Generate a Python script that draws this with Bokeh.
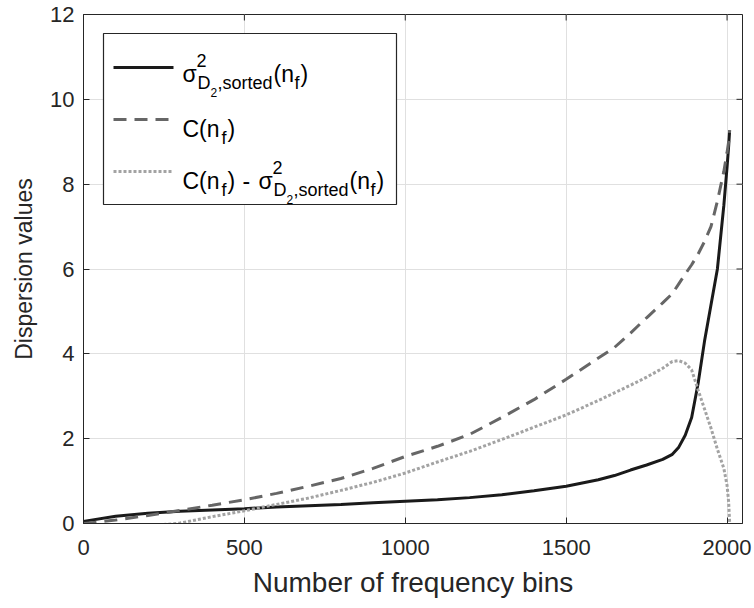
from bokeh.plotting import figure
from bokeh.models import Range1d, BoxAnnotation, Label, FixedTicker
from bokeh.embed import file_html
from bokeh.resources import INLINE

# ---------------- data ----------------
n_bins = [0, 100, 200, 300, 400, 500, 600, 700, 800, 900, 1000, 1100, 1200, 1300,
          1400, 1500, 1600, 1650, 1700, 1750, 1800, 1830, 1850, 1870, 1890, 1910,
          1930, 1950, 1970, 1990, 2000, 2005, 2008]
sigma_sorted = [0.05, 0.17, 0.24, 0.29, 0.32, 0.35, 0.39, 0.42, 0.45, 0.49, 0.525, 0.56,
                0.61, 0.68, 0.77, 0.88, 1.03, 1.13, 1.26, 1.38, 1.51, 1.63, 1.80, 2.08,
                2.50, 3.30, 4.30, 5.15, 6.00, 7.50, 8.40, 8.90, 9.27]
c_values = [0.0, 0.08, 0.19, 0.31, 0.43, 0.56, 0.71, 0.88, 1.06, 1.30, 1.58, 1.82,
            2.10, 2.50, 2.92, 3.40, 3.90, 4.15, 4.49, 4.85, 5.20, 5.42, 5.65, 5.88,
            6.10, 6.35, 6.65, 7.00, 7.60, 8.30, 8.75, 9.00, 9.27]
diff_values = [-0.05, -0.10, -0.06, 0.01, 0.16, 0.30, 0.45, 0.60, 0.78, 0.97, 1.19, 1.45,
               1.70, 1.98, 2.27, 2.56, 2.90, 3.08, 3.26, 3.45, 3.66, 3.82, 3.84, 3.78,
               3.62, 3.15, 2.70, 2.25, 1.75, 1.30, 0.90, 0.50, 0.03]

x_ticks = [0, 500, 1000, 1500, 2000]
y_ticks = [0, 2, 4, 6, 8, 10, 12]
X_MAX = 2048
Y_MAX = 12

AX = "#262626"
FONT = "Liberation Sans"

# frame edges in canvas pixels
FL, FR, FT, FB = 83, 742, 14, 523
W, H = 754, 608

p = figure(width=W, height=H,
           x_range=Range1d(0, X_MAX), y_range=Range1d(0, Y_MAX),
           output_backend="svg", toolbar_location=None,
           min_border_left=FL, min_border_right=W - FR,
           min_border_top=FT, min_border_bottom=H - FB)

p.background_fill_color = "white"
p.border_fill_color = "white"
p.outline_line_color = AX
p.outline_line_width = 1

p.xaxis.ticker = FixedTicker(ticks=x_ticks)
p.yaxis.ticker = FixedTicker(ticks=y_ticks)
for ax in list(p.xaxis) + list(p.yaxis):
    ax.major_tick_in = 6
    ax.major_tick_out = 0
    ax.minor_tick_in = 0
    ax.minor_tick_out = 0
    ax.axis_line_color = AX
    ax.major_tick_line_color = AX
    ax.major_label_text_font = FONT
    ax.major_label_text_font_size = "22px"
    ax.major_label_text_color = AX
    ax.axis_label_text_font = FONT
    ax.axis_label_text_font_style = "normal"
    ax.axis_label_text_color = AX

p.xaxis.axis_label = "Number of frequency bins"
p.xaxis.axis_label_text_font_size = "28px"
p.xaxis.major_label_standoff = 16
p.xaxis.axis_label_standoff = 9
p.yaxis.axis_label = "Dispersion values"
p.yaxis.axis_label_text_font_size = "23px"
p.yaxis.major_label_standoff = 9
p.yaxis.axis_label_standoff = 10

p.grid.grid_line_color = "#e0e0e0"
p.grid.grid_line_width = 1

# inward ticks on the right and top edges (box style)
tick_dx = 6 * X_MAX / (FR - FL)
tick_dy = 6 * Y_MAX / (FB - FT)
p.segment(x0=[X_MAX - tick_dx] * len(y_ticks), y0=y_ticks,
          x1=[X_MAX] * len(y_ticks), y1=y_ticks, line_color=AX, line_width=1)
p.segment(x0=x_ticks, y0=[Y_MAX - tick_dy] * len(x_ticks),
          x1=x_ticks, y1=[Y_MAX] * len(x_ticks), line_color=AX, line_width=1)

SOLID = "#1a1a1a"
DASH = "#666666"
DOT = "#a3a3a3"
p.line(n_bins, sigma_sorted, line_color=SOLID, line_width=3)
p.line(n_bins, c_values, line_color=DASH, line_width=3, line_dash="13 8")
p.line(n_bins, diff_values, line_color=DOT, line_width=3, line_dash="3 2")


# ---------------- legend (hand-built for the math labels) ----------------
def dx(px):
    return X_MAX * (px - FL) / (FR - FL)


def dy(py):
    return Y_MAX * (FB - py) / (FB - FT)


p.add_layout(BoxAnnotation(left=dx(103), right=dx(396), top=dy(33), bottom=dy(204),
                           fill_color="white", fill_alpha=1.0,
                           line_color=AX, line_alpha=1.0, line_width=1.2,
                           level="annotation"))

for ypix, col, dash in ((67, SOLID, "solid"), (119, DASH, "13 8"), (171, DOT, "3 2")):
    r = p.line([dx(113), dx(173)], [dy(ypix), dy(ypix)], line_color=col,
               line_width=3, line_dash=dash)
    r.level = "overlay"

BIG, SUB, SUBSUB = "23px", "18px", "12px"


def txt(s, xp, yp, size):
    p.add_layout(Label(x=dx(xp), y=dy(yp), text=s, text_font=FONT, text_font_size=size,
                       text_color="black", text_baseline="alphabetic",
                       text_align="left", level="overlay"))


def sigma_term(x0, base):
    txt("\u03c3", x0, base, BIG)
    txt("2", x0 + 14, base - 13, SUB)
    txt("D", x0 + 15, base + 9, SUB)
    txt("2", x0 + 28, base + 19, SUBSUB)
    txt(",sorted", x0 + 35, base + 9, SUB)
    txt("(n", x0 + 91, base, BIG)
    txt("f", x0 + 112, base + 9, SUB)
    txt(")", x0 + 118, base, BIG)


# row 1
sigma_term(182, 73)
# row 2
txt("C(n", 182, 128, BIG)
txt("f", 221, 137, SUB)
txt(")", 227, 128, BIG)
# row 3
txt("C(n", 182, 180, BIG)
txt("f", 221, 189, SUB)
txt(")", 227, 180, BIG)
txt("-", 242, 180, BIG)
sigma_term(258, 180)

open("out.html", "w").write(file_html(p, INLINE))
